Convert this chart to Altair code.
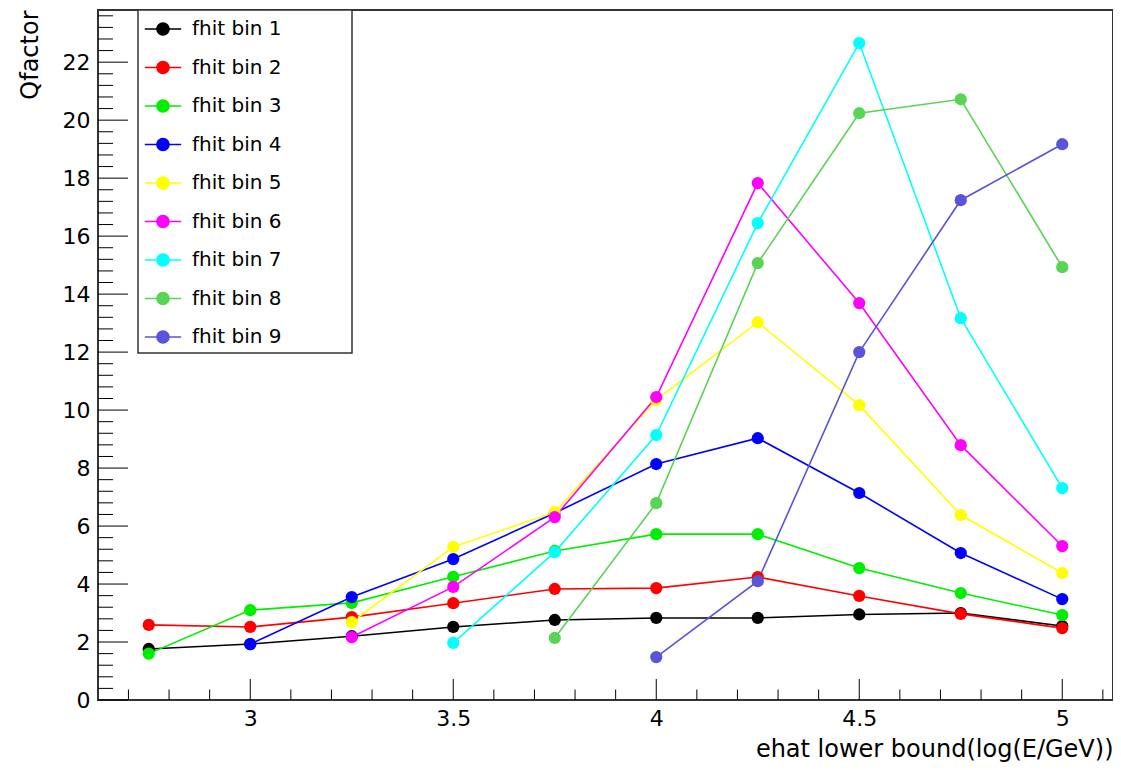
import altair as alt
import pandas as pd

# ---- data ----
x_vals = [2.75, 3.0, 3.25, 3.5, 3.75, 4.0, 4.25, 4.5, 4.75, 5.0]
series_names = ["fhit bin 1", "fhit bin 2", "fhit bin 3", "fhit bin 4", "fhit bin 5",
                "fhit bin 6", "fhit bin 7", "fhit bin 8", "fhit bin 9"]
bin1 = [1.76, 1.93, 2.20, 2.52, 2.76, 2.83, 2.83, 2.95, 3.00, 2.55]
bin2 = [2.59, 2.52, 2.86, 3.34, 3.83, 3.86, 4.24, 3.59, 2.97, 2.48]
bin3 = [1.60, 3.10, 3.35, 4.25, 5.14, 5.72, 5.72, 4.55, 3.69, 2.93]
bin4 = [None, 1.93, 3.55, 4.86, 6.45, 8.14, 9.03, 7.14, 5.07, 3.48]
bin5 = [None, None, 2.69, 5.28, 6.48, 10.35, 13.03, 10.17, 6.38, 4.38]
bin6 = [None, None, 2.17, 3.90, 6.31, 10.45, 17.83, 13.69, 8.79, 5.31]
bin7 = [None, None, None, 1.97, 5.10, 9.14, 16.45, 22.66, 13.17, 7.31]
bin8 = [None, None, None, None, 2.14, 6.79, 15.07, 20.24, 20.72, 14.93]
bin9 = [None, None, None, None, None, 1.48, 4.10, 12.00, 17.24, 19.17]
series_values = [bin1, bin2, bin3, bin4, bin5, bin6, bin7, bin8, bin9]
colors = ["#000000", "#ff0000", "#00ee00", "#0000ff", "#ffff00",
          "#ff00ff", "#00ffff", "#59d454", "#5954d9"]

x_labels = [3, 3.5, 4, 4.5, 5]
y_labels = [0, 2, 4, 6, 8, 10, 12, 14, 16, 18, 20, 22]
x_minor = [round(2.7 + 0.1 * i, 2) for i in range(25)]
y_minor = [round(0.4 * i, 2) for i in range(60)]

rows = []
for name, vals in zip(series_names, series_values):
    for xv, yv in zip(x_vals, vals):
        if yv is not None:
            rows.append({"series": name, "x": xv, "q": yv})
df = pd.DataFrame(rows)

FONT = "DejaVu Sans"
W, H = 1015, 690
xs = alt.Scale(domain=[2.625, 5.125], nice=False, zero=False)
ys = alt.Scale(domain=[0, 23.8], nice=False, zero=False)

xaxis = alt.Axis(values=x_labels, format="~g", ticks=False, domain=False, grid=False,
                 labelFont=FONT, labelFontSize=22, labelColor="black", labelPadding=8,
                 labelFlush=False, labelOverlap=False,
                 title="ehat lower bound(log(E/GeV))", titleFont=FONT, titleFontSize=24,
                 titleFontWeight="normal", titleColor="black", titleAnchor="end",
                 titleAlign="right", titleBaseline="alphabetic", titleY=56)
yaxis = alt.Axis(values=y_labels, format="d", ticks=False, domain=False, grid=False,
                 labelFont=FONT, labelFontSize=22, labelColor="black", labelPadding=8,
                 labelFlush=False, labelOverlap=False,
                 title="Qfactor", titleFont=FONT, titleFontSize=24, titleFontWeight="normal",
                 titleColor="black", titleAngle=270, titleX=-68, titleY=0,
                 titleAlign="right", titleBaseline="middle")

sym = ("M-1.4,-0.06L1.4,-0.06L1.4,0.06L-1.4,0.06Z"
       "M0.52,0A0.52,0.52 0 1,1 -0.52,0A0.52,0.52 0 1,1 0.52,0Z")
pad = "\u00a0" * 10 + "\u200b"
legend = alt.Legend(title=None, orient="none", legendX=40, legendY=0,
                    symbolType=sym, symbolSize=676, symbolStrokeWidth=0,
                    symbolOffset=6, labelOffset=16, padding=6, rowPadding=15.5,
                    labelFont=FONT, labelFontSize=20, labelColor="black", labelLimit=400,
                    labelExpr="datum.label + '" + pad + "'",
                    fillColor="white", strokeColor="#333333")

color = alt.Color("series:N", scale=alt.Scale(domain=series_names, range=colors),
                  sort=series_names, legend=legend)

lines = alt.Chart(df).mark_line(strokeWidth=1.6).encode(
    x=alt.X("x:Q", scale=xs, axis=xaxis),
    y=alt.Y("q:Q", scale=ys, axis=yaxis),
    color=color,
)
points = alt.Chart(df).mark_point(filled=True, shape="circle", size=150, opacity=1).encode(
    x=alt.X("x:Q", scale=xs, axis=xaxis),
    y=alt.Y("q:Q", scale=ys, axis=yaxis),
    color=color,
)

ymaj = pd.DataFrame({"v": y_labels})
ymin = pd.DataFrame({"v": [v for v in y_minor if v <= 23.8 and abs(v / 2 - round(v / 2)) > 1e-6]})
xmaj = pd.DataFrame({"v": x_labels})
xmin = pd.DataFrame({"v": [v for v in x_minor if abs(v * 2 - round(v * 2)) > 1e-6]})

ytick_major = alt.Chart(ymaj).mark_rule(color="black", strokeWidth=1).encode(
    y=alt.Y("v:Q", scale=ys, axis=yaxis), x=alt.value(0), x2=alt.value(30))
ytick_minor = alt.Chart(ymin).mark_rule(color="black", strokeWidth=1).encode(
    y=alt.Y("v:Q", scale=ys, axis=yaxis), x=alt.value(0), x2=alt.value(15))
xtick_major = alt.Chart(xmaj).mark_rule(color="black", strokeWidth=1).encode(
    x=alt.X("v:Q", scale=xs, axis=xaxis), y=alt.value(H), y2=alt.value(H - 21))
xtick_minor = alt.Chart(xmin).mark_rule(color="black", strokeWidth=1).encode(
    x=alt.X("v:Q", scale=xs, axis=xaxis), y=alt.value(H), y2=alt.value(H - 10.5))

chart = alt.layer(lines, points, ytick_major, ytick_minor, xtick_major, xtick_minor).properties(
    width=W, height=H,
    padding={"left": 90, "top": 2, "right": 0, "bottom": 68},
    autosize=alt.AutoSizeParams(type="none"),
    background="white",
).configure_view(stroke="#333333", strokeWidth=2).configure_legend(strokeWidth=1.5)

chart.save("out.html", embed_options={"renderer": "svg", "actions": False})
